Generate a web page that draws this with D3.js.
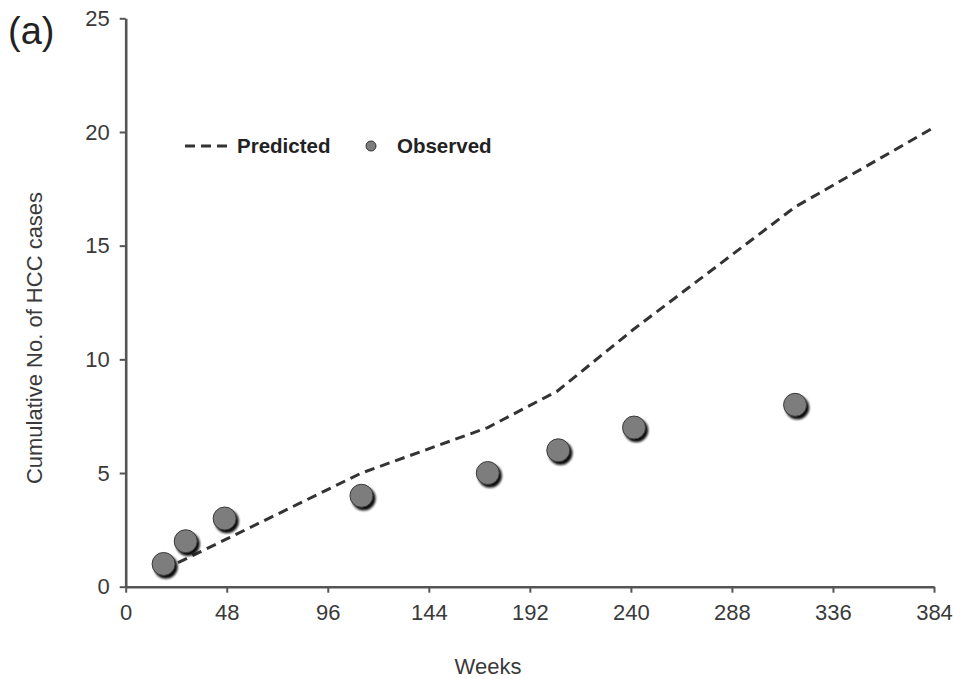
<!DOCTYPE html>
<html>
<head>
<meta charset="utf-8">
<script src="https://cdn.jsdelivr.net/npm/d3@7"></script>
<style>
    html, body { margin: 0; padding: 0; background: #fff; }
    svg { display: block; font-family: "Liberation Sans", Arial, sans-serif; }
</style>
</head>
<body>
<script>
// chart data
const observedWeeks = [18, 28.5, 47, 112, 172, 205.5, 241.5, 318];
const observedCases = [1, 2, 3, 4, 5, 6, 7, 8];
const predictedWeeks = [18, 48, 112, 172, 205, 241, 318, 384];
const predictedCases = [0.75, 2.1, 5.0, 7.0, 8.6, 11.3, 16.7, 20.2];
const xTicks = [0, 48, 96, 144, 192, 240, 288, 336, 384];
const yTicks = [0, 5, 10, 15, 20, 25];

/**
 * init svg
 * @returns {*} d3 svg selection
 */
const initSVGSettings = () => {
    let width = 953,
        height = 679;
    return d3.select('body')
        .append('svg')
        .attr('width', width)
        .attr('height', height);
};

/**
 * draw chart
 * @param svg svg selection
 */
const renderChart = (svg) => {
    let axisColor = '#555',
        textColor = '#3a3a3a';

    // scales
    let x = d3.scaleLinear().domain([0, 384]).range([125.7, 934]);
    let y = d3.scaleLinear().domain([0, 25]).range([586.7, 18.3]);

    // shadow filter for the dots
    svg.append('defs')
        .append('filter')
        .attr('id', 'blur')
        .append('feGaussianBlur')
        .attr('stdDeviation', 0.8);

    // x axis
    let xAxis = svg.append('g')
        .attr('transform', `translate(0,${y(0)})`)
        .call(d3.axisBottom(x).tickValues(xTicks).tickSize(6).tickPadding(12).tickSizeOuter(0));
    // y axis
    let yAxis = svg.append('g')
        .attr('transform', `translate(${x(0)},0)`)
        .call(d3.axisLeft(y).tickValues(yTicks).tickSize(6).tickPadding(10).tickSizeOuter(0));

    [xAxis, yAxis].forEach(g => {
        g.select('.domain').attr('stroke', axisColor).attr('stroke-width', 2.6);
        g.selectAll('.tick line').attr('stroke', axisColor).attr('stroke-width', 2);
        g.selectAll('.tick text')
            .attr('fill', textColor)
            .style('font-size', '22px')
            .style('font-family', '"Liberation Sans", Arial, sans-serif');
    });

    // predicted line
    let linePoints = predictedWeeks.map((w, i) => [w, predictedCases[i]]);
    svg.append('path')
        .datum(linePoints)
        .attr('fill', 'none')
        .attr('stroke', '#333')
        .attr('stroke-width', 3)
        .attr('stroke-dasharray', '10,6')
        .attr('d', d3.line().x(d => x(d[0])).y(d => y(d[1])));

    // observed dots
    let dots = observedWeeks.map((w, i) => ({week: w, cases: observedCases[i]}));
    let dotG = svg.append('g');
    dotG.selectAll('circle.shadow')
        .data(dots)
        .enter()
        .append('circle')
        .attr('class', 'shadow')
        .attr('cx', d => x(d.week) + 2.2)
        .attr('cy', d => y(d.cases) + 2.8)
        .attr('r', 12)
        .attr('fill', '#111')
        .attr('filter', 'url(#blur)');
    dotG.selectAll('circle.dot')
        .data(dots)
        .enter()
        .append('circle')
        .attr('class', 'dot')
        .attr('cx', d => x(d.week))
        .attr('cy', d => y(d.cases))
        .attr('r', 11.5)
        .attr('fill', '#7d7d7d')
        .attr('stroke', '#3a3a3a')
        .attr('stroke-width', 1);

    // legend
    let legend = svg.append('g');
    legend.append('line')
        .attr('x1', 185).attr('x2', 233)
        .attr('y1', 146).attr('y2', 146)
        .attr('stroke', '#333')
        .attr('stroke-width', 3)
        .attr('stroke-dasharray', '10,6');
    legend.append('text')
        .attr('x', 237).attr('y', 153)
        .attr('fill', '#222')
        .style('font-size', '20.5px')
        .style('font-weight', 'bold')
        .text('Predicted');
    legend.append('circle')
        .attr('cx', 371).attr('cy', 146)
        .attr('r', 5)
        .attr('fill', '#7d7d7d')
        .attr('stroke', '#333')
        .attr('stroke-width', 1);
    legend.append('text')
        .attr('x', 397).attr('y', 153)
        .attr('fill', '#222')
        .style('font-size', '20.5px')
        .style('font-weight', 'bold')
        .text('Observed');

    // axis titles
    svg.append('text')
        .attr('x', 488).attr('y', 674)
        .attr('text-anchor', 'middle')
        .attr('fill', textColor)
        .style('font-size', '22px')
        .text('Weeks');
    svg.append('text')
        .attr('transform', 'translate(42,338) rotate(-90)')
        .attr('text-anchor', 'middle')
        .attr('fill', textColor)
        .style('font-size', '22px')
        .text('Cumulative No. of HCC cases');

    // panel label
    svg.append('text')
        .attr('x', 8).attr('y', 44)
        .attr('fill', '#222')
        .style('font-size', '38px')
        .text('(a)');
};

let svg = initSVGSettings();
renderChart(svg);
</script>
</body>
</html>
